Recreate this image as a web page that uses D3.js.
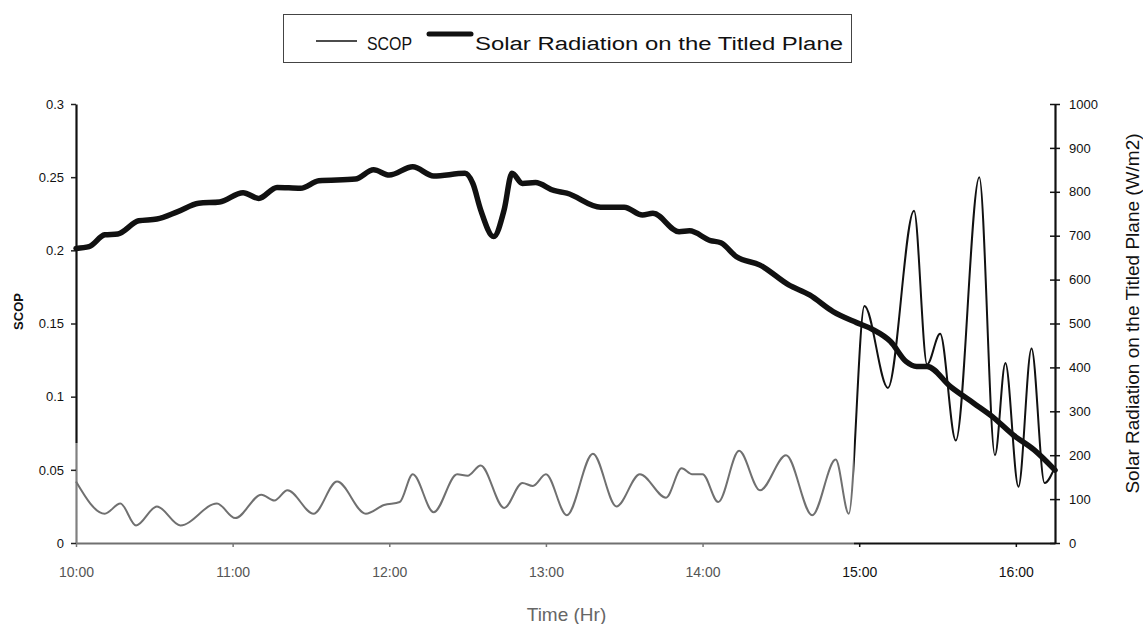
<!DOCTYPE html>
<html>
<head>
<meta charset="utf-8">
<script src="https://cdn.jsdelivr.net/npm/d3@7"></script>
<style>
  body { margin: 0; background: #fff; }
  svg { display: block; }
  text { font-family: "Liberation Sans", Arial, Helvetica, sans-serif; }
</style>
</head>
<body>
<svg id="chart" width="1143" height="624"></svg>
<script>
// SCOP readings (left axis)
const scopTimes = ["10:00","10:11","10:17","10:23","10:31","10:40","10:54","11:01","11:11","11:16",
  "11:21","11:31","11:40","11:51","11:58","12:04","12:09","12:17","12:26","12:30",
  "12:35","12:44","12:51","12:55","13:00","13:08","13:18","13:27","13:36","13:46",
  "13:52","13:56","14:00","14:06","14:14","14:22","14:32","14:42","14:51","14:56",
  "15:02","15:11","15:21","15:26","15:31","15:37","15:46","15:52","15:56","16:01",
  "16:06","16:11","16:15"];
const scopValues = [0.042,0.020,0.027,0.012,0.025,0.012,0.027,0.017,0.033,0.029,
  0.036,0.020,0.042,0.020,0.026,0.028,0.047,0.021,0.047,0.046,
  0.053,0.024,0.041,0.039,0.047,0.019,0.061,0.025,0.047,0.031,
  0.051,0.047,0.047,0.028,0.063,0.036,0.060,0.019,0.057,0.020,
  0.162,0.106,0.227,0.122,0.143,0.070,0.250,0.060,0.123,0.0385,
  0.133,0.041,0.052];

// Solar radiation on the tilted plane, W/m2 (right axis)
const solarTimes = ["10:00","10:05","10:11","10:16","10:24","10:31","10:39","10:47","10:55","11:04",
  "11:10","11:17","11:26","11:33","11:47","11:54","12:00","12:09","12:17","12:29",
  "12:32","12:35","12:40","12:44","12:47","12:51","12:56","13:03","13:08","13:21",
  "13:30","13:37","13:41","13:51","13:55","14:03","14:07","14:13","14:22","14:33",
  "14:41","14:50","14:59","15:05","15:12","15:18","15:22","15:26","15:35","15:44",
  "15:51","15:59","16:07","16:15"];
const solarValues = [671,675,702,704,734,738,755,774,777,798,
  785,810,808,825,829,850,838,857,836,842,
  819,759,698,759,842,819,821,803,797,765,
  765,747,751,709,711,689,684,652,633,588,
  565,527,502,487,459,413,402,402,356,318,
  288,246,212,166];

const hourTicks = ["10:00","11:00","12:00","13:00","14:00","15:00","16:00"];
const scopTicks = [0, 0.05, 0.1, 0.15, 0.2, 0.25, 0.3];
const scopTickLabels = ["0","0.05","0.1","0.15","0.2","0.25","0.3"];
const solarTicks = [0,100,200,300,400,500,600,700,800,900,1000];

const parseTime = d3.timeParse("%H:%M");
const fmtTime = d3.timeFormat("%H:%M");

const svg = d3.select("#chart");
const plotLeft = 76, plotRight = 1055, plotTop = 104, plotBottom = 543;

const x = d3.scaleTime().domain([parseTime("10:00"), parseTime("16:15")]).range([plotLeft, plotRight]);
const yL = d3.scaleLinear().domain([0, 0.3]).range([plotBottom, plotTop]);
const yR = d3.scaleLinear().domain([0, 1000]).range([plotBottom, plotTop]);

const scopData = scopTimes.map((t, i) => ({ t: parseTime(t), v: scopValues[i] }));
const solarData = solarTimes.map((t, i) => ({ t: parseTime(t), v: solarValues[i] }));

// Print tone: lighter ink over the morning part of the page, solid black afterwards
const defs = svg.append("defs");
const split = x(parseTime("14:58"));
const hGrad = defs.append("linearGradient").attr("id", "inkH")
  .attr("gradientUnits", "userSpaceOnUse")
  .attr("x1", plotLeft).attr("x2", plotRight).attr("y1", 0).attr("y2", 0);
const f = (split - plotLeft) / (plotRight - plotLeft);
hGrad.append("stop").attr("offset", 0).attr("stop-color", "#707070");
hGrad.append("stop").attr("offset", f).attr("stop-color", "#707070");
hGrad.append("stop").attr("offset", f).attr("stop-color", "#111");
hGrad.append("stop").attr("offset", 1).attr("stop-color", "#111");

const vSplit = yL(0.068);
const vGrad = defs.append("linearGradient").attr("id", "inkV")
  .attr("gradientUnits", "userSpaceOnUse")
  .attr("x1", 0).attr("x2", 0).attr("y1", plotTop).attr("y2", plotBottom);
const g = (vSplit - plotTop) / (plotBottom - plotTop);
vGrad.append("stop").attr("offset", 0).attr("stop-color", "#111");
vGrad.append("stop").attr("offset", g).attr("stop-color", "#111");
vGrad.append("stop").attr("offset", g).attr("stop-color", "#808080");
vGrad.append("stop").attr("offset", 1).attr("stop-color", "#808080");

// Axes
const xAxis = d3.axisBottom(x)
  .tickValues(hourTicks.map(parseTime))
  .tickFormat(fmtTime).tickSize(4).tickSizeOuter(0);
const gx = svg.append("g").attr("transform", `translate(0,${plotBottom})`).call(xAxis);
gx.select(".domain").attr("stroke", "url(#inkH)").attr("stroke-width", 2);
gx.selectAll(".tick line").attr("stroke", d => d < parseTime("15:00") ? "#777" : "#111").attr("stroke-width", 1.5);
gx.selectAll(".tick text").attr("y", 34).attr("dy", 0)
  .attr("font-size", 14)
  .attr("fill", d => d < parseTime("15:00") ? "#555" : "#111");

const yAxisL = d3.axisLeft(yL).tickValues(scopTicks)
  .tickFormat((d, i) => scopTickLabels[i]).tickSize(5).tickSizeOuter(0).tickPadding(7);
const gl = svg.append("g").attr("transform", `translate(${plotLeft},0)`).call(yAxisL);
gl.select(".domain").attr("stroke", "url(#inkV)").attr("stroke-width", 2.2);
gl.selectAll(".tick line").attr("stroke", "#222").attr("stroke-width", 1.5);
gl.selectAll(".tick text").attr("font-size", 13).attr("fill", "#111");

const yAxisR = d3.axisRight(yR).tickValues(solarTicks).tickFormat(d3.format("d"))
  .tickSize(5).tickSizeOuter(0).tickPadding(9);
const gr = svg.append("g").attr("transform", `translate(${plotRight},0)`).call(yAxisR);
gr.select(".domain").attr("stroke", "#111").attr("stroke-width", 2.2);
gr.selectAll(".tick line").attr("x1", -5).attr("x2", 5).attr("stroke", "#111").attr("stroke-width", 1.5);
gr.selectAll(".tick text").attr("font-size", 13).attr("fill", "#111");

// Axis titles
svg.append("text")
  .attr("transform", `translate(23,${(plotTop + plotBottom) / 2 - 12}) rotate(-90)`)
  .attr("text-anchor", "middle").attr("font-size", 13).attr("font-weight", "bold")
  .attr("fill", "#111").text("SCOP");

svg.append("text")
  .attr("transform", `translate(1138.5,${(plotTop + plotBottom) / 2 - 10}) rotate(-90)`)
  .attr("text-anchor", "middle").attr("font-size", 19)
  .attr("fill", "#111").text("Solar Radiation on the Titled Plane (W/m2)");

svg.append("text")
  .attr("x", (plotLeft + plotRight) / 2 + 1).attr("y", 621)
  .attr("text-anchor", "middle").attr("font-size", 19)
  .attr("fill", "#666").text("Time (Hr)");

// Series
const lineL = d3.line().x(d => x(d.t)).y(d => yL(d.v)).curve(d3.curveMonotoneX);
const lineR = d3.line().x(d => x(d.t)).y(d => yR(d.v)).curve(d3.curveMonotoneX);

svg.append("path").datum(scopData)
  .attr("fill", "none").attr("stroke", "url(#inkH)").attr("stroke-width", 2)
  .attr("stroke-linejoin", "round").attr("d", lineL);

svg.append("path").datum(solarData)
  .attr("fill", "none").attr("stroke", "#111").attr("stroke-width", 5.5)
  .attr("stroke-linejoin", "round").attr("stroke-linecap", "round").attr("d", lineR);

// Legend
const lg = svg.append("g");
lg.append("rect").attr("x", 283.5).attr("y", 14.5).attr("width", 568).attr("height", 48)
  .attr("fill", "none").attr("stroke", "#444").attr("stroke-width", 1);
lg.append("line").attr("x1", 316).attr("x2", 357).attr("y1", 41).attr("y2", 41)
  .attr("stroke", "#111").attr("stroke-width", 1.5);
lg.append("text").attr("x", 367).attr("y", 50).attr("font-size", 18).attr("fill", "#111")
  .attr("textLength", 45).attr("lengthAdjust", "spacingAndGlyphs").text("SCOP");
lg.append("line").attr("x1", 429).attr("x2", 471).attr("y1", 34).attr("y2", 34)
  .attr("stroke", "#111").attr("stroke-width", 5).attr("stroke-linecap", "round");
lg.append("text").attr("x", 475).attr("y", 50).attr("font-size", 18).attr("fill", "#111")
  .attr("textLength", 368).attr("lengthAdjust", "spacingAndGlyphs")
  .text("Solar Radiation on the Titled Plane");
</script>
</body>
</html>
